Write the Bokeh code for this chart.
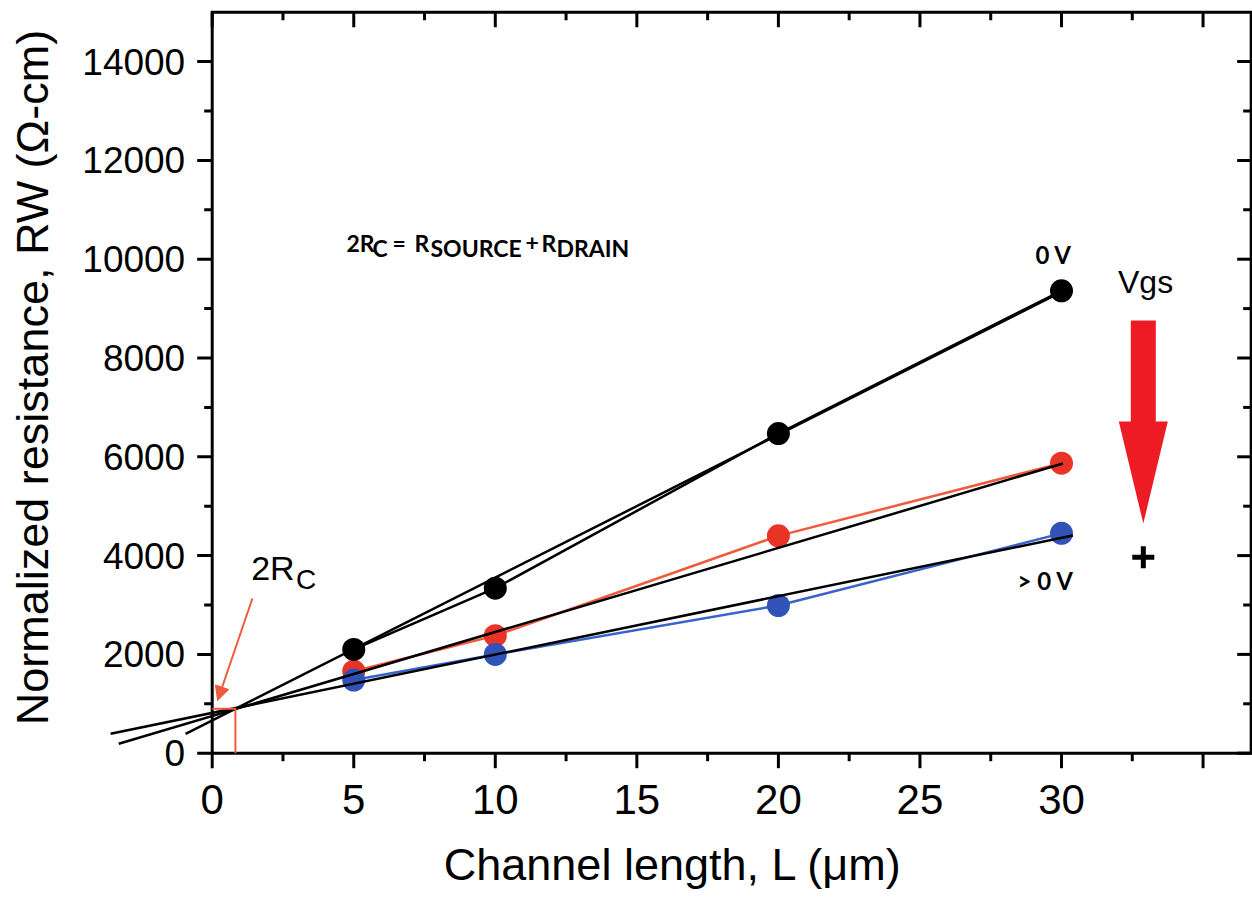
import numpy as np
from bokeh.plotting import figure
from bokeh.models import Range1d, Arrow, NormalHead
from bokeh.core.properties import value
from bokeh.embed import file_html
from bokeh.resources import INLINE

# ---------------- data ----------------
channel_length = [5, 10, 20, 30]
rw_0v = [2100, 3340, 6470, 9360]      # black, Vgs = 0 V
rw_mid = [1660, 2380, 4400, 5870]     # red
rw_pos = [1480, 2000, 2990, 4450]     # blue, Vgs > 0 V

# linear-fit lines (end points)
fit_0v_x = [-0.94, 30.0]
fit_0v_y = [392, 9340]
fit_mid_x = [-3.30, 30.05]
fit_mid_y = [190, 5865]
fit_pos_x = [-3.59, 30.4]
fit_pos_y = [392, 4407]

# common intercept 2Rc
rc_x = 0.82
rc_y = 900

x_ticks = [0, 5, 10, 15, 20, 25, 30, 35]
x_tick_labels = ["0", "5", "10", "15", "20", "25", "30", ""]
x_minor = [2.5, 7.5, 12.5, 17.5, 22.5, 27.5, 32.5]
y_ticks = [0, 2000, 4000, 6000, 8000, 10000, 12000, 14000]
y_tick_labels = ["0", "2000", "4000", "6000", "8000", "10000", "12000", "14000"]
y_minor = [1000, 3000, 5000, 7000, 9000, 11000, 13000]

x_title = "Channel length, L (μm)"
y_title = "Normalized resistance, RW (Ω-cm)"

# ---------------- layout constants ----------------
W, H = 1252, 897
PX_X = 28.31      # px per x unit
PX_Y = 0.0494     # px per y unit
X0_PX, Y0_PX = 211.7, 752.7   # canvas position of (0, 0)
X_START = -X0_PX / PX_X
X_END = (W - X0_PX) / PX_X
Y_START = -(H - Y0_PX) / PX_Y
Y_END = Y0_PX / PX_Y
X_BOX = 36.70
Y_BOX = 15000

FONT = "Liberation Sans"
RED = "#ED1C24"
ORANGE = "#F05A3C"
BLUE = "#3153B8"
LW = 3

p = figure(width=W, height=H,
           x_range=Range1d(X_START, X_END), y_range=Range1d(Y_START, Y_END),
           output_backend="svg", toolbar_location=None,
           x_axis_location=None, y_axis_location=None,
           min_border_left=0, min_border_right=0,
           min_border_top=0, min_border_bottom=0)
p.outline_line_color = None
p.background_fill_color = "white"
p.border_fill_color = "white"
for g in p.grid:
    g.visible = False

# ---------------- frame box and ticks ----------------
p.line([0, 0, X_BOX, X_BOX, 0], [0, Y_BOX, Y_BOX, 0, 0], line_color="black",
       line_width=LW, line_join="miter")

tx_major = 15 / PX_X
tx_minor = 8 / PX_X
ty_major = 15 / PX_Y
ty_minor = 8 / PX_Y

def segs(x0, y0, x1, y1):
    p.segment(x0=x0, y0=y0, x1=x1, y1=y1, line_color="black", line_width=LW)

n, m = len(y_ticks), len(y_minor)
# left ticks (outward)
segs([-tx_major] * n, y_ticks, [0] * n, y_ticks)
segs([-tx_minor] * m, y_minor, [0] * m, y_minor)
# right ticks (inward)
segs([X_BOX - 14 / PX_X] * n, y_ticks, [X_BOX] * n, y_ticks)
segs([X_BOX - tx_minor] * m, y_minor, [X_BOX] * m, y_minor)
k, q = len(x_ticks), len(x_minor)
# bottom ticks (outward)
segs(x_ticks, [-ty_major] * k, x_ticks, [0] * k)
segs(x_minor, [-ty_minor] * q, x_minor, [0] * q)
# top ticks (inward)
segs(x_ticks, [Y_BOX - ty_major] * k, x_ticks, [Y_BOX] * k)
segs(x_minor, [Y_BOX - ty_minor] * q, x_minor, [Y_BOX] * q)

def txt(x, y, t, size, font=FONT, style="normal", align="center", angle=0.0):
    p.text(x=x, y=y, text=t, angle=angle, text_align=align, text_baseline="middle",
           text_font=value(font), text_font_style=style, text_font_size=size,
           text_color="black")

# tick labels
txt([-27 / PX_X] * n, y_ticks, y_tick_labels, "37px", align="right")
txt(x_ticks, [-46.3 / PX_Y] * k, x_tick_labels, "42px")

# axis titles
txt([-6.35], [7605], [y_title], "45px", angle=np.pi / 2)
txt([16.28], [-111.5 / PX_Y], [x_title], "45px")

# ---------------- data lines and points ----------------
p.line(channel_length, rw_mid, line_color=ORANGE, line_width=2.5)
p.line(channel_length, rw_pos, line_color="#3A62CC", line_width=2.5)
p.line(channel_length, rw_0v, line_color="black", line_width=2.5)

p.scatter(channel_length, rw_mid, size=23, fill_color="#EA3327", line_color=None)
p.scatter(channel_length, rw_pos, size=23, fill_color=BLUE, line_color=None)
p.scatter(channel_length, rw_0v, size=23, fill_color="black", line_color=None)

# fit lines
p.line(fit_0v_x, fit_0v_y, line_color="black", line_width=2.5)
p.line(fit_mid_x, fit_mid_y, line_color="black", line_width=2.5)
p.line(fit_pos_x, fit_pos_y, line_color="black", line_width=2.5)

# 2Rc construction lines
p.line([0, rc_x, rc_x], [rc_y, rc_y, 0], line_color=ORANGE, line_width=2)
p.add_layout(Arrow(end=NormalHead(size=14, fill_color=ORANGE, line_color=ORANGE),
                   x_start=1.42, y_start=3132, x_end=0.19, y_end=1067,
                   line_color=ORANGE, line_width=2))
txt([1.378], [3759], ["2R"], "34px", align="left")
txt([2.96], [3516], ["C"], "28px", align="left")

# formula  2Rc = Rsource + Rdrain
f_main_y = 10338
f_sub_y = 10217
txt([4.744, 6.37, 7.146, 11.07, 11.63], [f_main_y] * 5, ["2R", "=", "R", "+", "R"],
    "23px", font="Lato", style="bold", align="left")
txt([5.662, 7.711, 12.16], [f_sub_y] * 3, ["C", "SOURCE", "DRAIN"],
    "23px", font="Lato", style="bold", align="left")

# series labels
txt([29.08, 28.45], [10095, 3496], ["0 V", "> 0 V"], "24px", font="Lato",
    style="bold", align="left")

# Vgs arrow
ax_c = 32.89
shaft = 12.5 / PX_X
head = 24.5 / PX_X
p.patch([ax_c - shaft, ax_c + shaft, ax_c + shaft, ax_c + head, ax_c, ax_c - head, ax_c - shaft],
        [8759, 8759, 6715, 6715, 4650, 6715, 6715], fill_color=RED, line_color=None)
txt([32.97], [9538], ["Vgs"], "32px")
p.scatter([32.89], [3968], marker="cross", size=22, line_color="black", line_width=5)

open("out.html", "w").write(file_html(p, INLINE))
